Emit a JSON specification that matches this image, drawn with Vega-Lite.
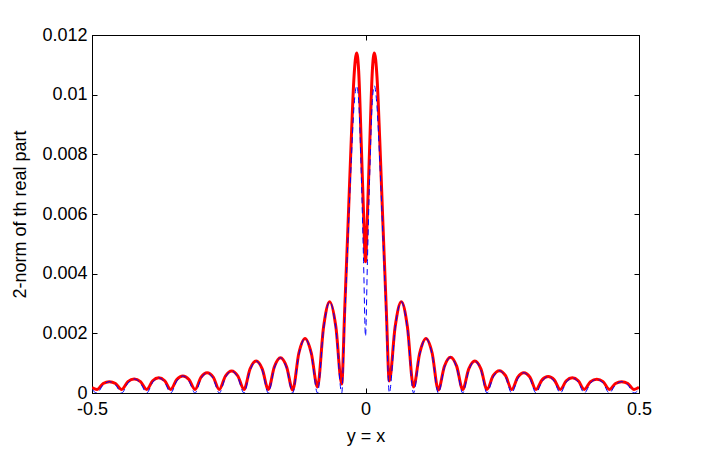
{
  "$schema": "https://vega.github.io/schema/vega-lite/v6.json",
  "width": 547,
  "height": 358,
  "autosize": {"type": "none"},
  "padding": {"left": 92, "top": 35, "right": 67, "bottom": 56},
  "background": "white",
  "config": {
    "view": {"stroke": "black", "strokeWidth": 1},
    "axis": {
      "grid": false,
      "domainColor": "black",
      "tickColor": "black",
      "labelColor": "black",
      "titleColor": "black",
      "labelFont": "Liberation Sans",
      "titleFont": "Liberation Sans",
      "labelFontSize": 18,
      "titleFontSize": 18,
      "titleFontWeight": "normal",
      "tickSize": -5,
      "labelOverlap": false,
      "labelFlush": false
    }
  },
  "data": {
    "values": [
      {"x": -0.5, "b": 0.00012, "r": 0.00018},
      {"x": -0.4909, "b": 0, "r": 0.00012},
      {"x": -0.4796, "b": 0.00027, "r": 0.00032},
      {"x": -0.4683, "b": 0.00038, "r": 0.00038},
      {"x": -0.457, "b": 0.00027, "r": 0.00032},
      {"x": -0.4457, "b": 0, "r": 0.00012},
      {"x": -0.4343, "b": 0.00033, "r": 0.00038},
      {"x": -0.4229, "b": 0.00047, "r": 0.00047},
      {"x": -0.4114, "b": 0.00033, "r": 0.00038},
      {"x": -0.4, "b": 0, "r": 0.00012},
      {"x": -0.389, "b": 0.00036, "r": 0.00041},
      {"x": -0.378, "b": 0.00051, "r": 0.00051},
      {"x": -0.3671, "b": 0.00036, "r": 0.00041},
      {"x": -0.3561, "b": 0, "r": 0.00012},
      {"x": -0.345, "b": 0.0004, "r": 0.00045},
      {"x": -0.3339, "b": 0.00057, "r": 0.00057},
      {"x": -0.3228, "b": 0.0004, "r": 0.00045},
      {"x": -0.3117, "b": 0, "r": 0.00012},
      {"x": -0.3006, "b": 0.00048, "r": 0.00053},
      {"x": -0.2895, "b": 0.00068, "r": 0.00068},
      {"x": -0.2784, "b": 0.00048, "r": 0.00053},
      {"x": -0.2673, "b": 0, "r": 0.00012},
      {"x": -0.256, "b": 0.00052, "r": 0.00057},
      {"x": -0.2447, "b": 0.00074, "r": 0.00074},
      {"x": -0.2334, "b": 0.00052, "r": 0.00057},
      {"x": -0.2221, "b": 0, "r": 0.00012},
      {"x": -0.211, "b": 0.00076, "r": 0.00081},
      {"x": -0.1999, "b": 0.00107, "r": 0.00107},
      {"x": -0.1888, "b": 0.00076, "r": 0.00081},
      {"x": -0.1777, "b": 0, "r": 0.00012},
      {"x": -0.1666, "b": 0.00083, "r": 0.00088},
      {"x": -0.1554, "b": 0.00118, "r": 0.00118},
      {"x": -0.1443, "b": 0.00083, "r": 0.00088},
      {"x": -0.1331, "b": 0, "r": 0.0001},
      {"x": -0.1218, "b": 0.00129, "r": 0.00134},
      {"x": -0.1105, "b": 0.00183, "r": 0.00183},
      {"x": -0.0991, "b": 0.00129, "r": 0.00134},
      {"x": -0.0878, "b": 0, "r": 0.0002},
      {"x": -0.0766, "b": 0.00216, "r": 0.00222},
      {"x": -0.0654, "b": 0.00306, "r": 0.00306},
      {"x": -0.0542, "b": 0.00216, "r": 0.00222},
      {"x": -0.0435, "b": 0, "r": 0.0003},
      {"x": -0.038, "b": 0.0025, "r": 0.0028},
      {"x": -0.032, "b": 0.0052, "r": 0.0056},
      {"x": -0.026, "b": 0.0078, "r": 0.0085},
      {"x": -0.021, "b": 0.0096, "r": 0.0106},
      {"x": -0.0162, "b": 0.0103, "r": 0.0114},
      {"x": -0.0125, "b": 0.0098, "r": 0.0108},
      {"x": -0.0075, "b": 0.0072, "r": 0.0082},
      {"x": -0.0035, "b": 0.0044, "r": 0.006},
      {"x": 0, "b": 0.0019, "r": 0.0044},
      {"x": 0.0035, "b": 0.0044, "r": 0.006},
      {"x": 0.0075, "b": 0.0072, "r": 0.0082},
      {"x": 0.0125, "b": 0.0098, "r": 0.0108},
      {"x": 0.0162, "b": 0.0103, "r": 0.0114},
      {"x": 0.021, "b": 0.0096, "r": 0.0106},
      {"x": 0.026, "b": 0.0078, "r": 0.0085},
      {"x": 0.032, "b": 0.0052, "r": 0.0056},
      {"x": 0.038, "b": 0.0025, "r": 0.0028},
      {"x": 0.0435, "b": 0, "r": 0.0004},
      {"x": 0.0542, "b": 0.00216, "r": 0.00222},
      {"x": 0.0654, "b": 0.00306, "r": 0.00306},
      {"x": 0.0766, "b": 0.00216, "r": 0.00222},
      {"x": 0.0878, "b": 0, "r": 0.0002},
      {"x": 0.0991, "b": 0.00129, "r": 0.00134},
      {"x": 0.1105, "b": 0.00183, "r": 0.00183},
      {"x": 0.1218, "b": 0.00129, "r": 0.00134},
      {"x": 0.1331, "b": 0, "r": 0.0001},
      {"x": 0.1443, "b": 0.00085, "r": 0.0009},
      {"x": 0.1554, "b": 0.0012, "r": 0.0012},
      {"x": 0.1666, "b": 0.00085, "r": 0.0009},
      {"x": 0.1777, "b": 0, "r": 0.00012},
      {"x": 0.1888, "b": 0.00076, "r": 0.00081},
      {"x": 0.1999, "b": 0.00107, "r": 0.00107},
      {"x": 0.211, "b": 0.00076, "r": 0.00081},
      {"x": 0.2221, "b": 0, "r": 0.00012},
      {"x": 0.2334, "b": 0.00053, "r": 0.00058},
      {"x": 0.2447, "b": 0.00075, "r": 0.00075},
      {"x": 0.256, "b": 0.00053, "r": 0.00058},
      {"x": 0.2673, "b": 0, "r": 0.00012},
      {"x": 0.2784, "b": 0.00048, "r": 0.00053},
      {"x": 0.2895, "b": 0.00068, "r": 0.00068},
      {"x": 0.3006, "b": 0.00048, "r": 0.00053},
      {"x": 0.3117, "b": 0, "r": 0.00012},
      {"x": 0.3228, "b": 0.00039, "r": 0.00044},
      {"x": 0.3339, "b": 0.00055, "r": 0.00055},
      {"x": 0.345, "b": 0.00039, "r": 0.00044},
      {"x": 0.3561, "b": 0, "r": 0.00012},
      {"x": 0.3671, "b": 0.00036, "r": 0.00041},
      {"x": 0.378, "b": 0.00051, "r": 0.00051},
      {"x": 0.389, "b": 0.00036, "r": 0.00041},
      {"x": 0.4, "b": 0, "r": 0.00012},
      {"x": 0.4114, "b": 0.00033, "r": 0.00038},
      {"x": 0.4229, "b": 0.00046, "r": 0.00046},
      {"x": 0.4343, "b": 0.00033, "r": 0.00038},
      {"x": 0.4457, "b": 0, "r": 0.00012},
      {"x": 0.457, "b": 0.00027, "r": 0.00032},
      {"x": 0.4683, "b": 0.00038, "r": 0.00038},
      {"x": 0.4796, "b": 0.00027, "r": 0.00032},
      {"x": 0.4909, "b": 0, "r": 0.00012},
      {"x": 0.5, "b": 0.00012, "r": 0.00019}
    ]
  },
  "layer": [
    {
      "mark": {"type": "line", "color": "#ff0000", "strokeWidth": 3, "interpolate": "monotone", "clip": true},
      "encoding": {
        "x": {
          "field": "x", "type": "quantitative",
          "scale": {"domain": [-0.5, 0.5], "nice": false, "zero": false},
          "axis": {
            "orient": "bottom",
            "values": [-0.5, 0, 0.5],
            "labelExpr": "'' + datum.value",
            "labelPadding": 12,
            "title": "y = x",
            "titlePadding": 9
          }
        },
        "y": {
          "field": "r", "type": "quantitative",
          "scale": {"domain": [0, 0.012], "nice": false},
          "axis": {
            "orient": "left",
            "values": [0, 0.002, 0.004, 0.006, 0.008, 0.01, 0.012],
            "labelExpr": "'' + datum.value",
            "labelPadding": 10,
            "title": "2-norm of th real part",
            "titlePadding": 12
          }
        }
      }
    },
    {
      "mark": {"type": "line", "color": "#0000ff", "strokeWidth": 1, "strokeDash": [6, 4], "interpolate": "monotone", "clip": true},
      "encoding": {
        "x": {
          "field": "x", "type": "quantitative",
          "scale": {"domain": [-0.5, 0.5], "nice": false, "zero": false},
          "axis": {"orient": "top", "values": [-0.5, 0, 0.5], "labels": false, "title": null}
        },
        "y": {
          "field": "b", "type": "quantitative",
          "scale": {"domain": [0, 0.012], "nice": false},
          "axis": {"orient": "right", "values": [0, 0.002, 0.004, 0.006, 0.008, 0.01, 0.012], "labels": false, "title": null}
        }
      }
    }
  ],
  "resolve": {"axis": {"x": "independent", "y": "independent"}}
}
